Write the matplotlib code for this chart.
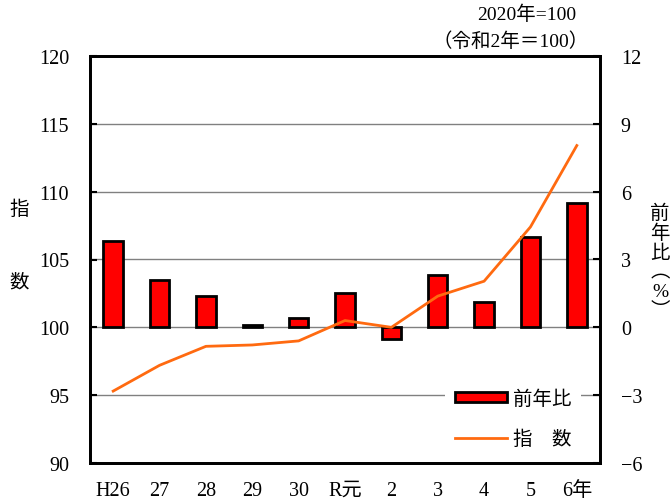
import matplotlib
matplotlib.use("Agg")
import matplotlib.pyplot as plt
from matplotlib.patches import Patch
from matplotlib.lines import Line2D

plt.rcParams['font.family'] = ['Liberation Serif', 'Noto Sans CJK JP', 'DejaVu Sans']

categories = ["H26", "27", "28", "29", "30", "R元", "2", "3", "4", "5", "6年"]
yoy = [3.8, 2.1, 1.4, 0.1, 0.4, 1.5, -0.5, 2.3, 1.1, 4.0, 5.5]
index = [95.3, 97.2, 98.6, 98.7, 99.0, 100.5, 100.0, 102.3, 103.4, 107.4, 113.4]
left_ticks = [90, 95, 100, 105, 110, 115, 120]
right_ticks = [-6, -3, 0, 3, 6, 9, 12]

bar_color = '#FF0000'
line_color = '#FF6A10'

fig = plt.figure(figsize=(6.71, 5.02), dpi=100)
ax = fig.add_axes([90/671, 1-464/502, 510/671, 407/502])
ax2 = ax.twinx()

x = list(range(len(categories)))

# bars on right axis
ax2.set_ylim(-6, 12)
ax2.set_yticks(right_ticks)
ax2.set_yticklabels(["\u22126", "\u22123", "0", "3", "6", "9", "12"])
for yv in right_ticks[1:-1]:
    ax2.axhline(yv, color='#808080', lw=1.0, zorder=0)
ax2.bar(x, yoy, width=0.42, color=bar_color, edgecolor='black', lw=2, zorder=2)

# line on left axis
ax.set_zorder(ax2.get_zorder() + 1)
ax.patch.set_visible(False)
ax.plot(x, index, color=line_color, lw=2, zorder=3)
ax.set_ylim(90, 120)
ax.set_yticks(left_ticks)
ax.set_xlim(-0.5, len(categories) - 0.5)
ax.set_xticks(x)
ax.set_xticklabels(categories)

for a in (ax, ax2):
    for s in a.spines.values():
        s.set_linewidth(2)
        s.set_color('black')
    a.tick_params(axis='y', direction='in', length=5, width=1.5, labelsize=14.5, pad=15)
ax.tick_params(axis='x', length=0, labelsize=14.5, pad=13)

fig.text(19/671, 1-210/502, "指", fontsize=14, ha='center', va='center')
fig.text(19/671, 1-283/502, "数", fontsize=14, ha='center', va='center')
fig.text(660/671, 1-262/502, "前\n年\n比\n︵\n%\n︶", fontsize=14, ha='center', va='center', linespacing=1.15)

fig.text(527/671, 1-15/502, "2020年=100", fontsize=14, ha='center', va='center')
fig.text(511/671, 1-42/502, "（令和2年＝100）", fontsize=14, ha='center', va='center')

handles = [Patch(facecolor=bar_color, edgecolor='black', lw=2),
           Line2D([0], [0], color=line_color, lw=2)]
leg = ax.legend(handles, ["前年比", "指　数"], loc='lower right',
                bbox_to_anchor=(0.982, -0.01), frameon=True, framealpha=1,
                edgecolor='none', facecolor='white', fontsize=14,
                handlelength=2.7, handleheight=0.45, labelspacing=1.1,
                borderpad=0.5, handletextpad=0.3)

fig.savefig("out.png", dpi=100)
